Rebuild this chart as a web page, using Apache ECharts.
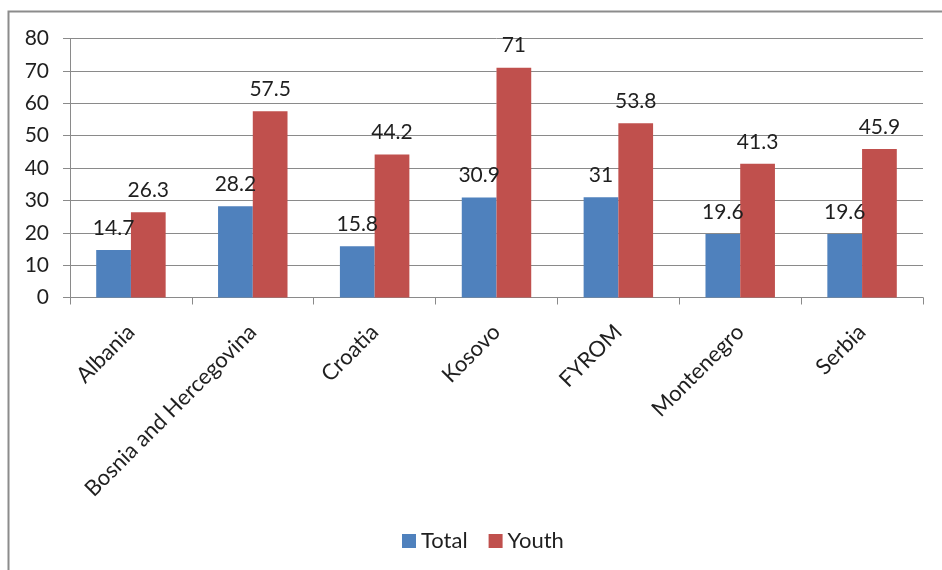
<!DOCTYPE html>
<html>
<head>
<meta charset="utf-8">
<script src="https://cdn.jsdelivr.net/npm/echarts@6/dist/echarts.min.js"></script>
<style>
  html, body { margin: 0; padding: 0; background: #fff; }
  #chart { width: 942px; height: 570px; }
</style>
</head>
<body>
<div id="chart"></div>
<script>
// Unemployment rates (%) by country, total vs. youth
const categories = ['Albania', 'Bosnia and Hercegovina', 'Croatia', 'Kosovo', 'FYROM', 'Montenegro', 'Serbia'];
const totalValues = [14.7, 28.2, 15.8, 30.9, 31, 19.6, 19.6];
const youthValues = [26.3, 57.5, 44.2, 71, 53.8, 41.3, 45.9];
const seriesNames = ['Total', 'Youth'];

const FONT = 'Lato, "Open Sans", sans-serif';
const FS = 21;
const TEXT = '#1f1f1f';
const AXIS_GRAY = '#8a8a8a';

const chart = echarts.init(document.getElementById('chart'), null, { renderer: 'canvas' });

const labelStyle = {
  show: true,
  position: 'top',
  distance: 10,
  color: TEXT,
  fontFamily: FONT,
  fontSize: FS,
  lineHeight: 24
};

chart.setOption({
  animation: false,
  backgroundColor: '#ffffff',
  textStyle: { fontFamily: FONT },
  graphic: [{
    type: 'rect',
    shape: { x: 8.5, y: 11.5, width: 960, height: 600 },
    style: { fill: 'none', stroke: '#8c8c8c', lineWidth: 2 },
    silent: true,
    z: -1
  }],
  grid: { left: 70, right: 19, top: 38.5, bottom: 272.5, containLabel: false },
  legend: {
    data: seriesNames,
    top: 524,
    left: 397,
    icon: 'rect',
    itemWidth: 14,
    itemHeight: 14,
    itemGap: 21,
    textStyle: { fontFamily: FONT, fontSize: 22, lineHeight: 24, color: TEXT }
  },
  xAxis: {
    type: 'category',
    data: categories,
    axisLine: { show: true, lineStyle: { color: AXIS_GRAY, width: 1 } },
    axisTick: { show: true, length: 7, alignWithLabel: false, lineStyle: { color: AXIS_GRAY } },
    axisLabel: {
      rotate: 45,
      margin: 31,
      interval: 0,
      color: TEXT,
      fontFamily: FONT,
      fontSize: 22
    },
    splitLine: { show: false }
  },
  yAxis: {
    type: 'value',
    min: 0,
    max: 80,
    interval: 10,
    axisLine: { show: true, lineStyle: { color: AXIS_GRAY, width: 1 } },
    axisTick: { show: true, length: 7, lineStyle: { color: AXIS_GRAY } },
    axisLabel: { margin: 21, color: TEXT, fontFamily: FONT, fontSize: FS },
    splitLine: { show: true, lineStyle: { color: AXIS_GRAY, width: 1 } }
  },
  series: [
    {
      name: seriesNames[0],
      type: 'bar',
      data: totalValues,
      barGap: '0%',
      barCategoryGap: '43%',
      itemStyle: { color: '#4F81BD' },
      label: labelStyle
    },
    {
      name: seriesNames[1],
      type: 'bar',
      data: youthValues,
      barGap: '0%',
      barCategoryGap: '43%',
      itemStyle: { color: '#C0504D' },
      label: labelStyle
    }
  ]
});
</script>
</body>
</html>
